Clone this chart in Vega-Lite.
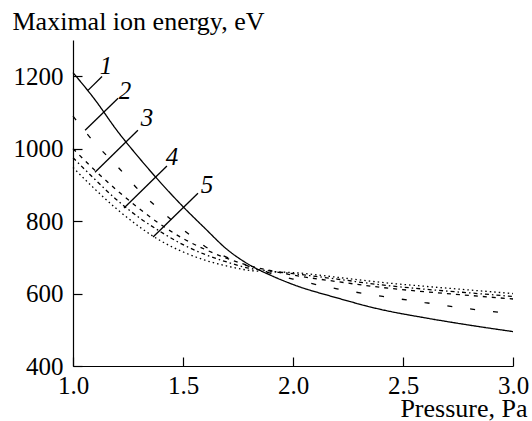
{
  "$schema": "https://vega.github.io/schema/vega-lite/v6.json",
  "width": 440,
  "height": 326,
  "autosize": {"type": "none"},
  "padding": {"left": 73, "top": 40, "right": 19, "bottom": 55},
  "background": "white",
  "config": {
    "view": {"stroke": null},
    "font": "Liberation Serif"
  },
  "datasets": {
    "curves": [
      {"series": "1", "p": 1.0, "e": 1210}, {"series": "1", "p": 1.1, "e": 1135}, {"series": "1", "p": 1.2, "e": 1050},
      {"series": "1", "p": 1.3, "e": 975}, {"series": "1", "p": 1.4, "e": 905}, {"series": "1", "p": 1.5, "e": 840},
      {"series": "1", "p": 1.6, "e": 780}, {"series": "1", "p": 1.7, "e": 722}, {"series": "1", "p": 1.8, "e": 680},
      {"series": "1", "p": 1.9, "e": 650}, {"series": "1", "p": 2.0, "e": 625}, {"series": "1", "p": 2.2, "e": 588},
      {"series": "1", "p": 2.4, "e": 556}, {"series": "1", "p": 2.6, "e": 533}, {"series": "1", "p": 2.8, "e": 513},
      {"series": "1", "p": 3.0, "e": 495},

      {"series": "2", "p": 1.0, "e": 1090}, {"series": "2", "p": 1.1, "e": 1015}, {"series": "2", "p": 1.2, "e": 952},
      {"series": "2", "p": 1.3, "e": 885}, {"series": "2", "p": 1.4, "e": 828}, {"series": "2", "p": 1.5, "e": 777},
      {"series": "2", "p": 1.6, "e": 730}, {"series": "2", "p": 1.7, "e": 700}, {"series": "2", "p": 1.8, "e": 675},
      {"series": "2", "p": 1.9, "e": 656}, {"series": "2", "p": 2.0, "e": 640}, {"series": "2", "p": 2.2, "e": 613},
      {"series": "2", "p": 2.4, "e": 593}, {"series": "2", "p": 2.6, "e": 575}, {"series": "2", "p": 2.8, "e": 558},
      {"series": "2", "p": 3.0, "e": 544},

      {"series": "3", "p": 1.0, "e": 1000}, {"series": "3", "p": 1.1, "e": 940}, {"series": "3", "p": 1.2, "e": 885},
      {"series": "3", "p": 1.3, "e": 835}, {"series": "3", "p": 1.4, "e": 790}, {"series": "3", "p": 1.5, "e": 752},
      {"series": "3", "p": 1.6, "e": 722}, {"series": "3", "p": 1.7, "e": 697}, {"series": "3", "p": 1.8, "e": 677},
      {"series": "3", "p": 1.9, "e": 663}, {"series": "3", "p": 2.0, "e": 651}, {"series": "3", "p": 2.2, "e": 633},
      {"series": "3", "p": 2.4, "e": 617}, {"series": "3", "p": 2.6, "e": 605}, {"series": "3", "p": 2.8, "e": 595},
      {"series": "3", "p": 3.0, "e": 585},

      {"series": "4", "p": 1.0, "e": 975}, {"series": "4", "p": 1.1, "e": 915}, {"series": "4", "p": 1.2, "e": 858},
      {"series": "4", "p": 1.3, "e": 810}, {"series": "4", "p": 1.4, "e": 770}, {"series": "4", "p": 1.5, "e": 735},
      {"series": "4", "p": 1.6, "e": 708}, {"series": "4", "p": 1.7, "e": 687}, {"series": "4", "p": 1.8, "e": 670},
      {"series": "4", "p": 1.9, "e": 662}, {"series": "4", "p": 2.0, "e": 655}, {"series": "4", "p": 2.2, "e": 640},
      {"series": "4", "p": 2.4, "e": 624}, {"series": "4", "p": 2.6, "e": 612}, {"series": "4", "p": 2.8, "e": 602},
      {"series": "4", "p": 3.0, "e": 592},

      {"series": "5", "p": 1.0, "e": 948}, {"series": "5", "p": 1.1, "e": 888}, {"series": "5", "p": 1.2, "e": 833},
      {"series": "5", "p": 1.3, "e": 785}, {"series": "5", "p": 1.4, "e": 745}, {"series": "5", "p": 1.5, "e": 715},
      {"series": "5", "p": 1.6, "e": 692}, {"series": "5", "p": 1.7, "e": 676}, {"series": "5", "p": 1.8, "e": 664},
      {"series": "5", "p": 1.9, "e": 660}, {"series": "5", "p": 2.0, "e": 658}, {"series": "5", "p": 2.2, "e": 645},
      {"series": "5", "p": 2.4, "e": 631}, {"series": "5", "p": 2.6, "e": 620}, {"series": "5", "p": 2.8, "e": 610},
      {"series": "5", "p": 3.0, "e": 600}
    ],
    "leaders": [
      {"series": "1", "p": 1.068, "e": 1161, "p2": 1.132, "e2": 1199},
      {"series": "2", "p": 1.055, "e": 1051, "p2": 1.205, "e2": 1139},
      {"series": "3", "p": 1.100, "e": 935, "p2": 1.295, "e2": 1051},
      {"series": "4", "p": 1.232, "e": 836, "p2": 1.427, "e2": 952},
      {"series": "5", "p": 1.364, "e": 756, "p2": 1.568, "e2": 877}
    ],
    "labels": [
      {"series": "1", "p": 1.150, "e": 1228},
      {"series": "2", "p": 1.236, "e": 1159},
      {"series": "3", "p": 1.336, "e": 1084},
      {"series": "4", "p": 1.450, "e": 977},
      {"series": "5", "p": 1.609, "e": 899}
    ]
  },
  "encoding": {
    "x": {
      "field": "p",
      "type": "quantitative",
      "scale": {"domain": [1, 3], "nice": false, "zero": false},
      "axis": {
        "title": "Pressure, Pa",
        "values": [1, 1.5, 2, 2.5, 3],
        "format": ".1f",
        "grid": false,
        "domainColor": "black",
        "domainWidth": 1.2,
        "tickColor": "black",
        "tickWidth": 1.2,
        "tickSize": -9,
        "labelColor": "black",
        "labelFont": "Liberation Serif",
        "labelFontSize": 25,
        "labelPadding": 16,
        "labelFlush": false,
        "titleColor": "black",
        "titleFont": "Liberation Serif",
        "titleFontSize": 26,
        "titleFontWeight": "normal",
        "titleX": 454,
        "titleY": 50,
        "titleAlign": "right",
        "titleAnchor": null,
        "titleBaseline": "alphabetic"
      }
    },
    "y": {
      "field": "e",
      "type": "quantitative",
      "scale": {"domain": [400, 1300], "nice": false, "zero": false},
      "axis": {
        "title": "Maximal ion energy, eV",
        "values": [400, 600, 800, 1000, 1200],
        "format": "d",
        "grid": false,
        "domainColor": "black",
        "domainWidth": 1.2,
        "tickColor": "black",
        "tickWidth": 1.2,
        "tickSize": -9,
        "labelColor": "black",
        "labelFont": "Liberation Serif",
        "labelFontSize": 25,
        "labelPadding": 19,
        "labelFlush": false,
        "titleColor": "black",
        "titleFont": "Liberation Serif",
        "titleFontSize": 26,
        "titleFontWeight": "normal",
        "titleAngle": 0,
        "titleX": -61,
        "titleY": -11,
        "titleAlign": "left",
        "titleAnchor": null,
        "titleBaseline": "alphabetic"
      }
    }
  },
  "layer": [
    {
      "data": {"name": "curves"},
      "mark": {"type": "line", "color": "black", "strokeWidth": 1.3, "interpolate": "monotone"},
      "encoding": {
        "detail": {"field": "series"},
        "strokeDash": {
          "field": "series",
          "type": "nominal",
          "scale": {
            "domain": ["1", "2", "3", "4", "5"],
            "range": [[1, 0], [5, 18], [4, 5], [4, 3, 1.5, 3], [1.5, 3]]
          },
          "legend": null
        }
      }
    },
    {
      "data": {"name": "leaders"},
      "mark": {"type": "rule", "color": "black", "strokeWidth": 1.3},
      "encoding": {
        "x2": {"field": "p2"},
        "y2": {"field": "e2"}
      }
    },
    {
      "data": {"name": "labels"},
      "mark": {"type": "text", "font": "Liberation Serif", "fontStyle": "italic", "fontSize": 25, "color": "black", "align": "center", "baseline": "middle"},
      "encoding": {
        "text": {"field": "series"}
      }
    }
  ]
}
